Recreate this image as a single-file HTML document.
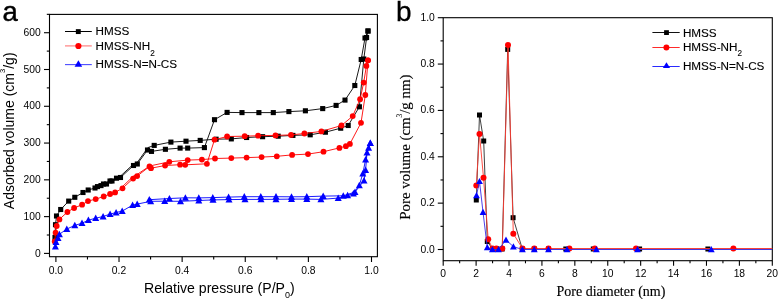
<!DOCTYPE html>
<html><head><meta charset="utf-8"><style>
html,body{margin:0;padding:0;background:#fff;width:778px;height:299px;overflow:hidden}
svg{display:block;will-change:transform}

</style></head><body>
<svg width="778" height="299" viewBox="0 0 778 299">
<text x="2.6" y="21" font-family="'Liberation Sans', sans-serif" font-size="27.5" fill="#000" stroke="#000" stroke-width="0.45">a</text>
<text x="396" y="20.7" font-family="'Liberation Sans', sans-serif" font-size="28" fill="#000" stroke="#000" stroke-width="0.3">b</text>
<rect x="49.5" y="14.4" width="327.9" height="242.3" fill="none" stroke="#000" stroke-width="1.1"/>
<line x1="44" y1="253.40" x2="49.5" y2="253.40" stroke="#000" stroke-width="1.1"/>
<text x="40.7" y="256.50" font-family="'Liberation Sans', sans-serif" font-size="10.3" text-anchor="end">0</text>
<line x1="44" y1="216.62" x2="49.5" y2="216.62" stroke="#000" stroke-width="1.1"/>
<text x="40.7" y="219.72" font-family="'Liberation Sans', sans-serif" font-size="10.3" text-anchor="end">100</text>
<line x1="44" y1="179.84" x2="49.5" y2="179.84" stroke="#000" stroke-width="1.1"/>
<text x="40.7" y="182.94" font-family="'Liberation Sans', sans-serif" font-size="10.3" text-anchor="end">200</text>
<line x1="44" y1="143.06" x2="49.5" y2="143.06" stroke="#000" stroke-width="1.1"/>
<text x="40.7" y="146.16" font-family="'Liberation Sans', sans-serif" font-size="10.3" text-anchor="end">300</text>
<line x1="44" y1="106.28" x2="49.5" y2="106.28" stroke="#000" stroke-width="1.1"/>
<text x="40.7" y="109.38" font-family="'Liberation Sans', sans-serif" font-size="10.3" text-anchor="end">400</text>
<line x1="44" y1="69.50" x2="49.5" y2="69.50" stroke="#000" stroke-width="1.1"/>
<text x="40.7" y="72.60" font-family="'Liberation Sans', sans-serif" font-size="10.3" text-anchor="end">500</text>
<line x1="44" y1="32.72" x2="49.5" y2="32.72" stroke="#000" stroke-width="1.1"/>
<text x="40.7" y="35.82" font-family="'Liberation Sans', sans-serif" font-size="10.3" text-anchor="end">600</text>
<line x1="46.8" y1="235.01" x2="49.5" y2="235.01" stroke="#000" stroke-width="1.1"/>
<line x1="46.8" y1="198.23" x2="49.5" y2="198.23" stroke="#000" stroke-width="1.1"/>
<line x1="46.8" y1="161.45" x2="49.5" y2="161.45" stroke="#000" stroke-width="1.1"/>
<line x1="46.8" y1="124.67" x2="49.5" y2="124.67" stroke="#000" stroke-width="1.1"/>
<line x1="46.8" y1="87.89" x2="49.5" y2="87.89" stroke="#000" stroke-width="1.1"/>
<line x1="46.8" y1="51.11" x2="49.5" y2="51.11" stroke="#000" stroke-width="1.1"/>
<line x1="46.8" y1="14.33" x2="49.5" y2="14.33" stroke="#000" stroke-width="1.1"/>
<line x1="55.90" y1="256.7" x2="55.90" y2="262" stroke="#000" stroke-width="1.1"/>
<text x="55.90" y="273.6" font-family="'Liberation Sans', sans-serif" font-size="10.3" text-anchor="middle">0.0</text>
<line x1="87.46" y1="256.7" x2="87.46" y2="259.5" stroke="#000" stroke-width="1.1"/>
<line x1="119.02" y1="256.7" x2="119.02" y2="262" stroke="#000" stroke-width="1.1"/>
<text x="119.02" y="273.6" font-family="'Liberation Sans', sans-serif" font-size="10.3" text-anchor="middle">0.2</text>
<line x1="150.58" y1="256.7" x2="150.58" y2="259.5" stroke="#000" stroke-width="1.1"/>
<line x1="182.14" y1="256.7" x2="182.14" y2="262" stroke="#000" stroke-width="1.1"/>
<text x="182.14" y="273.6" font-family="'Liberation Sans', sans-serif" font-size="10.3" text-anchor="middle">0.4</text>
<line x1="213.70" y1="256.7" x2="213.70" y2="259.5" stroke="#000" stroke-width="1.1"/>
<line x1="245.26" y1="256.7" x2="245.26" y2="262" stroke="#000" stroke-width="1.1"/>
<text x="245.26" y="273.6" font-family="'Liberation Sans', sans-serif" font-size="10.3" text-anchor="middle">0.6</text>
<line x1="276.82" y1="256.7" x2="276.82" y2="259.5" stroke="#000" stroke-width="1.1"/>
<line x1="308.38" y1="256.7" x2="308.38" y2="262" stroke="#000" stroke-width="1.1"/>
<text x="308.38" y="273.6" font-family="'Liberation Sans', sans-serif" font-size="10.3" text-anchor="middle">0.8</text>
<line x1="339.94" y1="256.7" x2="339.94" y2="259.5" stroke="#000" stroke-width="1.1"/>
<line x1="371.50" y1="256.7" x2="371.50" y2="262" stroke="#000" stroke-width="1.1"/>
<text x="371.50" y="273.6" font-family="'Liberation Sans', sans-serif" font-size="10.3" text-anchor="middle">1.0</text>
<text x="144" y="292.5" font-family="'Liberation Sans', sans-serif" font-size="14.1">Relative pressure (P/P<tspan font-size="9" dy="5.6">0</tspan><tspan dy="-5.6">)</tspan></text>
<text transform="translate(13.6,209.2) rotate(-90)" x="0" y="0" font-family="'Liberation Sans', sans-serif" font-size="14">Adsorbed volume (cm<tspan font-size="7.6" dy="-8.5">3</tspan><tspan dy="8.5">/g)</tspan></text>
<polyline points="55.0,237.4 55.5,224.7 56.5,216.0 60.7,209.5 68.7,201.1 74.8,197.3 83.0,192.5 88.2,190.0 95.0,188.0 101.0,185.6 106.5,184.0 112.0,181.0 120.5,177.5 133.5,165.5 137.3,164.0 147.5,150.0 151.5,151.4 165.4,149.3 180.1,148.1 187.7,148.1 204.4,147.6 214.5,119.7 227.1,112.4 242.0,112.6 258.9,112.6 273.3,112.6 288.9,111.6 305.4,110.8 322.7,108.6 336.1,105.4 345.0,100.1 354.8,85.5 361.2,59.5 365.0,38.0 368.0,31.0" fill="none" stroke="#000" stroke-width="0.9"/>
<polyline points="368.0,31.0 366.6,37.5 363.8,59.0 359.4,106.8 348.2,125.5 340.7,128.2 325.4,132.2 310.2,134.8 292.9,135.4 278.2,136.2 262.6,136.7 246.6,137.5 231.3,138.9 216.1,139.2 200.2,140.4 186.0,141.2 170.9,142.1 154.2,145.4 147.9,147.6 137.6,162.0 133.8,163.8 121.0,175.6 116.5,178.2 110.0,181.0 103.5,184.0 97.5,186.6" fill="none" stroke="#000" stroke-width="0.9"/>
<rect x="52.45" y="234.85" width="5.1" height="5.1" fill="#000"/><rect x="52.95" y="222.15" width="5.1" height="5.1" fill="#000"/><rect x="53.95" y="213.45" width="5.1" height="5.1" fill="#000"/><rect x="58.15" y="206.95" width="5.1" height="5.1" fill="#000"/><rect x="66.15" y="198.55" width="5.1" height="5.1" fill="#000"/><rect x="72.25" y="194.75" width="5.1" height="5.1" fill="#000"/><rect x="80.45" y="189.95" width="5.1" height="5.1" fill="#000"/><rect x="85.65" y="187.45" width="5.1" height="5.1" fill="#000"/><rect x="92.45" y="185.45" width="5.1" height="5.1" fill="#000"/><rect x="98.45" y="183.05" width="5.1" height="5.1" fill="#000"/><rect x="103.95" y="181.45" width="5.1" height="5.1" fill="#000"/><rect x="109.45" y="178.45" width="5.1" height="5.1" fill="#000"/><rect x="117.95" y="174.95" width="5.1" height="5.1" fill="#000"/><rect x="130.95" y="162.95" width="5.1" height="5.1" fill="#000"/><rect x="134.75" y="161.45" width="5.1" height="5.1" fill="#000"/><rect x="144.95" y="147.45" width="5.1" height="5.1" fill="#000"/><rect x="148.95" y="148.85" width="5.1" height="5.1" fill="#000"/><rect x="162.85" y="146.75" width="5.1" height="5.1" fill="#000"/><rect x="177.55" y="145.55" width="5.1" height="5.1" fill="#000"/><rect x="185.15" y="145.55" width="5.1" height="5.1" fill="#000"/><rect x="201.85" y="145.05" width="5.1" height="5.1" fill="#000"/><rect x="211.95" y="117.15" width="5.1" height="5.1" fill="#000"/><rect x="224.55" y="109.85" width="5.1" height="5.1" fill="#000"/><rect x="239.45" y="110.05" width="5.1" height="5.1" fill="#000"/><rect x="256.35" y="110.05" width="5.1" height="5.1" fill="#000"/><rect x="270.75" y="110.05" width="5.1" height="5.1" fill="#000"/><rect x="286.35" y="109.05" width="5.1" height="5.1" fill="#000"/><rect x="302.85" y="108.25" width="5.1" height="5.1" fill="#000"/><rect x="320.15" y="106.05" width="5.1" height="5.1" fill="#000"/><rect x="333.55" y="102.85" width="5.1" height="5.1" fill="#000"/><rect x="342.45" y="97.55" width="5.1" height="5.1" fill="#000"/><rect x="352.25" y="82.95" width="5.1" height="5.1" fill="#000"/><rect x="358.65" y="56.95" width="5.1" height="5.1" fill="#000"/><rect x="362.45" y="35.45" width="5.1" height="5.1" fill="#000"/><rect x="365.45" y="28.45" width="5.1" height="5.1" fill="#000"/><rect x="365.45" y="28.45" width="5.1" height="5.1" fill="#000"/><rect x="364.05" y="34.95" width="5.1" height="5.1" fill="#000"/><rect x="361.25" y="56.45" width="5.1" height="5.1" fill="#000"/><rect x="356.85" y="104.25" width="5.1" height="5.1" fill="#000"/><rect x="345.65" y="122.95" width="5.1" height="5.1" fill="#000"/><rect x="338.15" y="125.65" width="5.1" height="5.1" fill="#000"/><rect x="322.85" y="129.65" width="5.1" height="5.1" fill="#000"/><rect x="307.65" y="132.25" width="5.1" height="5.1" fill="#000"/><rect x="290.35" y="132.85" width="5.1" height="5.1" fill="#000"/><rect x="275.65" y="133.65" width="5.1" height="5.1" fill="#000"/><rect x="260.05" y="134.15" width="5.1" height="5.1" fill="#000"/><rect x="244.05" y="134.95" width="5.1" height="5.1" fill="#000"/><rect x="228.75" y="136.35" width="5.1" height="5.1" fill="#000"/><rect x="213.55" y="136.65" width="5.1" height="5.1" fill="#000"/><rect x="197.65" y="137.85" width="5.1" height="5.1" fill="#000"/><rect x="183.45" y="138.65" width="5.1" height="5.1" fill="#000"/><rect x="168.35" y="139.55" width="5.1" height="5.1" fill="#000"/><rect x="151.65" y="142.85" width="5.1" height="5.1" fill="#000"/><rect x="113.95" y="175.65" width="5.1" height="5.1" fill="#000"/><rect x="107.45" y="178.45" width="5.1" height="5.1" fill="#000"/><rect x="100.95" y="181.45" width="5.1" height="5.1" fill="#000"/><rect x="94.95" y="184.05" width="5.1" height="5.1" fill="#000"/>
<polyline points="54.7,241.4 55.6,232.7 56.7,226.0 59.4,219.4 67.4,212.0 74.1,208.0 82.1,204.7 88.0,201.1 95.7,199.1 103.7,196.5 110.1,194.0 115.1,192.4 122.5,188.3 133.1,178.6 137.1,176.1 149.5,166.5 151.0,168.2 165.1,165.5 180.1,164.7 185.2,164.8 206.9,163.8 214.5,139.7 227.1,136.5 244.7,136.2 258.1,135.7 275.5,135.4 291.0,134.9 304.4,133.5 321.4,131.4 341.5,125.5 352.7,116.1 360.1,99.2 363.7,82.6 366.4,65.9 368.0,60.3" fill="none" stroke="#ff0000" stroke-width="0.9"/>
<polyline points="368.0,60.3 365.3,95.0 361.0,122.8 349.9,143.9 345.9,146.2 339.4,147.9 323.5,151.7 308.0,154.1 292.1,154.9 276.8,156.3 261.6,157.1 246.6,157.6 231.3,158.1 215.0,158.5 201.9,159.6 187.7,160.1 169.3,161.8 149.6,166.0 137.8,174.0 133.6,176.0 122.4,186.6" fill="none" stroke="#ff0000" stroke-width="0.9"/>
<circle cx="54.70" cy="241.40" r="2.9" fill="#f00"/><circle cx="55.60" cy="232.70" r="2.9" fill="#f00"/><circle cx="56.70" cy="226.00" r="2.9" fill="#f00"/><circle cx="59.40" cy="219.40" r="2.9" fill="#f00"/><circle cx="67.40" cy="212.00" r="2.9" fill="#f00"/><circle cx="74.10" cy="208.00" r="2.9" fill="#f00"/><circle cx="82.10" cy="204.70" r="2.9" fill="#f00"/><circle cx="88.00" cy="201.10" r="2.9" fill="#f00"/><circle cx="95.70" cy="199.10" r="2.9" fill="#f00"/><circle cx="103.70" cy="196.50" r="2.9" fill="#f00"/><circle cx="110.10" cy="194.00" r="2.9" fill="#f00"/><circle cx="115.10" cy="192.40" r="2.9" fill="#f00"/><circle cx="122.50" cy="188.30" r="2.9" fill="#f00"/><circle cx="133.10" cy="178.60" r="2.9" fill="#f00"/><circle cx="137.10" cy="176.10" r="2.9" fill="#f00"/><circle cx="149.50" cy="166.50" r="2.9" fill="#f00"/><circle cx="151.00" cy="168.20" r="2.9" fill="#f00"/><circle cx="165.10" cy="165.50" r="2.9" fill="#f00"/><circle cx="180.10" cy="164.70" r="2.9" fill="#f00"/><circle cx="185.20" cy="164.80" r="2.9" fill="#f00"/><circle cx="206.90" cy="163.80" r="2.9" fill="#f00"/><circle cx="214.50" cy="139.70" r="2.9" fill="#f00"/><circle cx="227.10" cy="136.50" r="2.9" fill="#f00"/><circle cx="244.70" cy="136.20" r="2.9" fill="#f00"/><circle cx="258.10" cy="135.70" r="2.9" fill="#f00"/><circle cx="275.50" cy="135.40" r="2.9" fill="#f00"/><circle cx="291.00" cy="134.90" r="2.9" fill="#f00"/><circle cx="304.40" cy="133.50" r="2.9" fill="#f00"/><circle cx="321.40" cy="131.40" r="2.9" fill="#f00"/><circle cx="341.50" cy="125.50" r="2.9" fill="#f00"/><circle cx="352.70" cy="116.10" r="2.9" fill="#f00"/><circle cx="360.10" cy="99.20" r="2.9" fill="#f00"/><circle cx="363.70" cy="82.60" r="2.9" fill="#f00"/><circle cx="366.40" cy="65.90" r="2.9" fill="#f00"/><circle cx="368.00" cy="60.30" r="2.9" fill="#f00"/><circle cx="368.00" cy="60.30" r="2.9" fill="#f00"/><circle cx="365.30" cy="95.00" r="2.9" fill="#f00"/><circle cx="361.00" cy="122.80" r="2.9" fill="#f00"/><circle cx="349.90" cy="143.90" r="2.9" fill="#f00"/><circle cx="345.90" cy="146.20" r="2.9" fill="#f00"/><circle cx="339.40" cy="147.90" r="2.9" fill="#f00"/><circle cx="323.50" cy="151.70" r="2.9" fill="#f00"/><circle cx="308.00" cy="154.10" r="2.9" fill="#f00"/><circle cx="292.10" cy="154.90" r="2.9" fill="#f00"/><circle cx="276.80" cy="156.30" r="2.9" fill="#f00"/><circle cx="261.60" cy="157.10" r="2.9" fill="#f00"/><circle cx="246.60" cy="157.60" r="2.9" fill="#f00"/><circle cx="231.30" cy="158.10" r="2.9" fill="#f00"/><circle cx="215.00" cy="158.50" r="2.9" fill="#f00"/><circle cx="201.90" cy="159.60" r="2.9" fill="#f00"/><circle cx="187.70" cy="160.10" r="2.9" fill="#f00"/><circle cx="169.30" cy="161.80" r="2.9" fill="#f00"/>
<polyline points="55.4,246.6 56.0,242.1 58.0,238.0 59.4,234.3 66.8,229.0 74.8,225.4 82.0,223.2 88.4,220.2 95.7,218.2 103.1,216.5 110.1,214.1 116.1,212.5 122.2,211.1 132.6,205.1 137.2,204.1 150.7,201.3 164.7,201.2 180.5,201.3 198.8,200.5 213.0,199.9 229.0,199.6 245.0,199.4 261.0,199.4 276.0,199.3 291.5,199.1 306.8,199.1 320.9,199.4 338.2,198.1 347.6,195.4 353.4,193.5 359.3,185.4 362.8,173.6 365.6,159.6 368.6,147.9 370.3,143.2" fill="none" stroke="#0000ff" stroke-width="0.9"/>
<polyline points="370.3,143.2 367.0,152.6 365.6,170.1 364.0,180.7 355.0,192.0 343.3,195.8 323.2,196.1 306.8,196.7 291.5,196.8 276.0,196.7 260.8,196.7 244.3,196.7 228.6,197.1 212.8,197.6 198.8,197.9 185.4,197.8 169.4,198.5 149.3,199.7" fill="none" stroke="#0000ff" stroke-width="0.9"/>
<polygon points="55.40,243.03 58.90,249.53 51.90,249.53" fill="#00f"/><polygon points="56.00,238.53 59.50,245.03 52.50,245.03" fill="#00f"/><polygon points="58.00,234.43 61.50,240.93 54.50,240.93" fill="#00f"/><polygon points="59.40,230.73 62.90,237.23 55.90,237.23" fill="#00f"/><polygon points="66.80,225.43 70.30,231.93 63.30,231.93" fill="#00f"/><polygon points="74.80,221.83 78.30,228.33 71.30,228.33" fill="#00f"/><polygon points="82.00,219.62 85.50,226.12 78.50,226.12" fill="#00f"/><polygon points="88.40,216.62 91.90,223.12 84.90,223.12" fill="#00f"/><polygon points="95.70,214.62 99.20,221.12 92.20,221.12" fill="#00f"/><polygon points="103.10,212.93 106.60,219.43 99.60,219.43" fill="#00f"/><polygon points="110.10,210.53 113.60,217.03 106.60,217.03" fill="#00f"/><polygon points="116.10,208.93 119.60,215.43 112.60,215.43" fill="#00f"/><polygon points="122.20,207.53 125.70,214.03 118.70,214.03" fill="#00f"/><polygon points="132.60,201.53 136.10,208.03 129.10,208.03" fill="#00f"/><polygon points="137.20,200.53 140.70,207.03 133.70,207.03" fill="#00f"/><polygon points="150.70,197.73 154.20,204.23 147.20,204.23" fill="#00f"/><polygon points="164.70,197.62 168.20,204.12 161.20,204.12" fill="#00f"/><polygon points="180.50,197.73 184.00,204.23 177.00,204.23" fill="#00f"/><polygon points="198.80,196.93 202.30,203.43 195.30,203.43" fill="#00f"/><polygon points="213.00,196.33 216.50,202.83 209.50,202.83" fill="#00f"/><polygon points="229.00,196.03 232.50,202.53 225.50,202.53" fill="#00f"/><polygon points="245.00,195.83 248.50,202.33 241.50,202.33" fill="#00f"/><polygon points="261.00,195.83 264.50,202.33 257.50,202.33" fill="#00f"/><polygon points="276.00,195.73 279.50,202.23 272.50,202.23" fill="#00f"/><polygon points="291.50,195.53 295.00,202.03 288.00,202.03" fill="#00f"/><polygon points="306.80,195.53 310.30,202.03 303.30,202.03" fill="#00f"/><polygon points="320.90,195.83 324.40,202.33 317.40,202.33" fill="#00f"/><polygon points="338.20,194.53 341.70,201.03 334.70,201.03" fill="#00f"/><polygon points="347.60,191.83 351.10,198.33 344.10,198.33" fill="#00f"/><polygon points="353.40,189.93 356.90,196.43 349.90,196.43" fill="#00f"/><polygon points="359.30,181.83 362.80,188.33 355.80,188.33" fill="#00f"/><polygon points="362.80,170.03 366.30,176.53 359.30,176.53" fill="#00f"/><polygon points="365.60,156.03 369.10,162.53 362.10,162.53" fill="#00f"/><polygon points="368.60,144.33 372.10,150.83 365.10,150.83" fill="#00f"/><polygon points="370.30,139.62 373.80,146.12 366.80,146.12" fill="#00f"/><polygon points="370.30,139.62 373.80,146.12 366.80,146.12" fill="#00f"/><polygon points="367.00,149.03 370.50,155.53 363.50,155.53" fill="#00f"/><polygon points="365.60,166.53 369.10,173.03 362.10,173.03" fill="#00f"/><polygon points="364.00,177.12 367.50,183.62 360.50,183.62" fill="#00f"/><polygon points="355.00,188.43 358.50,194.93 351.50,194.93" fill="#00f"/><polygon points="343.30,192.23 346.80,198.73 339.80,198.73" fill="#00f"/><polygon points="323.20,192.53 326.70,199.03 319.70,199.03" fill="#00f"/><polygon points="306.80,193.12 310.30,199.62 303.30,199.62" fill="#00f"/><polygon points="291.50,193.23 295.00,199.73 288.00,199.73" fill="#00f"/><polygon points="276.00,193.12 279.50,199.62 272.50,199.62" fill="#00f"/><polygon points="260.80,193.12 264.30,199.62 257.30,199.62" fill="#00f"/><polygon points="244.30,193.12 247.80,199.62 240.80,199.62" fill="#00f"/><polygon points="228.60,193.53 232.10,200.03 225.10,200.03" fill="#00f"/><polygon points="212.80,194.03 216.30,200.53 209.30,200.53" fill="#00f"/><polygon points="198.80,194.33 202.30,200.83 195.30,200.83" fill="#00f"/><polygon points="185.40,194.23 188.90,200.73 181.90,200.73" fill="#00f"/><polygon points="169.40,194.93 172.90,201.43 165.90,201.43" fill="#00f"/><polygon points="149.30,196.12 152.80,202.62 145.80,202.62" fill="#00f"/>
<line x1="65" y1="31.5" x2="91.8" y2="31.5" stroke="#000" stroke-width="1"/>
<rect x="75.85" y="29.15" width="4.9" height="4.9" fill="#000"/>
<line x1="65" y1="45.9" x2="91.8" y2="45.9" stroke="#ff8080" stroke-width="1.2"/>
<circle cx="78.40" cy="46.00" r="3.1" fill="#f00"/>
<line x1="65" y1="64.6" x2="91.8" y2="64.6" stroke="#4a4aff" stroke-width="1.1"/>
<polygon points="78.40,60.27 82.20,66.87 74.60,66.87" fill="#00f"/>
<text x="95.6" y="35" font-family="'Liberation Sans', sans-serif" font-size="11.7" stroke="#000" stroke-width="0.12">HMSS</text>
<text x="95.6" y="49.8" font-family="'Liberation Sans', sans-serif" font-size="11.7" stroke="#000" stroke-width="0.12">HMSS-NH<tspan font-size="8.2" dy="5.8">2</tspan></text>
<text x="95.6" y="68.3" font-family="'Liberation Sans', sans-serif" font-size="11.7" stroke="#000" stroke-width="0.12">HMSS-N=N-CS</text>
<rect x="443.2" y="17.7" width="329.1" height="243" fill="none" stroke="#000" stroke-width="1.1"/>
<line x1="437.8" y1="249.50" x2="443.2" y2="249.50" stroke="#000" stroke-width="1.1"/>
<text x="434.8" y="252.50" font-family="'Liberation Sans', sans-serif" font-size="10.3" text-anchor="end">0.0</text>
<line x1="437.8" y1="203.14" x2="443.2" y2="203.14" stroke="#000" stroke-width="1.1"/>
<text x="434.8" y="206.14" font-family="'Liberation Sans', sans-serif" font-size="10.3" text-anchor="end">0.2</text>
<line x1="437.8" y1="156.78" x2="443.2" y2="156.78" stroke="#000" stroke-width="1.1"/>
<text x="434.8" y="159.78" font-family="'Liberation Sans', sans-serif" font-size="10.3" text-anchor="end">0.4</text>
<line x1="437.8" y1="110.42" x2="443.2" y2="110.42" stroke="#000" stroke-width="1.1"/>
<text x="434.8" y="113.42" font-family="'Liberation Sans', sans-serif" font-size="10.3" text-anchor="end">0.6</text>
<line x1="437.8" y1="64.06" x2="443.2" y2="64.06" stroke="#000" stroke-width="1.1"/>
<text x="434.8" y="67.06" font-family="'Liberation Sans', sans-serif" font-size="10.3" text-anchor="end">0.8</text>
<line x1="437.8" y1="17.70" x2="443.2" y2="17.70" stroke="#000" stroke-width="1.1"/>
<text x="434.8" y="20.70" font-family="'Liberation Sans', sans-serif" font-size="10.3" text-anchor="end">1.0</text>
<line x1="440.5" y1="226.32" x2="443.2" y2="226.32" stroke="#000" stroke-width="1.1"/>
<line x1="440.5" y1="179.96" x2="443.2" y2="179.96" stroke="#000" stroke-width="1.1"/>
<line x1="440.5" y1="133.60" x2="443.2" y2="133.60" stroke="#000" stroke-width="1.1"/>
<line x1="440.5" y1="87.24" x2="443.2" y2="87.24" stroke="#000" stroke-width="1.1"/>
<line x1="440.5" y1="40.88" x2="443.2" y2="40.88" stroke="#000" stroke-width="1.1"/>
<line x1="443.20" y1="260.7" x2="443.20" y2="265.8" stroke="#000" stroke-width="1.1"/>
<text x="443.20" y="277.3" font-family="'Liberation Sans', sans-serif" font-size="10.3" text-anchor="middle">0</text>
<line x1="459.65" y1="260.7" x2="459.65" y2="263.3" stroke="#000" stroke-width="1.1"/>
<line x1="476.11" y1="260.7" x2="476.11" y2="265.8" stroke="#000" stroke-width="1.1"/>
<text x="476.11" y="277.3" font-family="'Liberation Sans', sans-serif" font-size="10.3" text-anchor="middle">2</text>
<line x1="492.56" y1="260.7" x2="492.56" y2="263.3" stroke="#000" stroke-width="1.1"/>
<line x1="509.02" y1="260.7" x2="509.02" y2="265.8" stroke="#000" stroke-width="1.1"/>
<text x="509.02" y="277.3" font-family="'Liberation Sans', sans-serif" font-size="10.3" text-anchor="middle">4</text>
<line x1="525.48" y1="260.7" x2="525.48" y2="263.3" stroke="#000" stroke-width="1.1"/>
<line x1="541.93" y1="260.7" x2="541.93" y2="265.8" stroke="#000" stroke-width="1.1"/>
<text x="541.93" y="277.3" font-family="'Liberation Sans', sans-serif" font-size="10.3" text-anchor="middle">6</text>
<line x1="558.38" y1="260.7" x2="558.38" y2="263.3" stroke="#000" stroke-width="1.1"/>
<line x1="574.84" y1="260.7" x2="574.84" y2="265.8" stroke="#000" stroke-width="1.1"/>
<text x="574.84" y="277.3" font-family="'Liberation Sans', sans-serif" font-size="10.3" text-anchor="middle">8</text>
<line x1="591.29" y1="260.7" x2="591.29" y2="263.3" stroke="#000" stroke-width="1.1"/>
<line x1="607.75" y1="260.7" x2="607.75" y2="265.8" stroke="#000" stroke-width="1.1"/>
<text x="607.75" y="277.3" font-family="'Liberation Sans', sans-serif" font-size="10.3" text-anchor="middle">10</text>
<line x1="624.20" y1="260.7" x2="624.20" y2="263.3" stroke="#000" stroke-width="1.1"/>
<line x1="640.66" y1="260.7" x2="640.66" y2="265.8" stroke="#000" stroke-width="1.1"/>
<text x="640.66" y="277.3" font-family="'Liberation Sans', sans-serif" font-size="10.3" text-anchor="middle">12</text>
<line x1="657.12" y1="260.7" x2="657.12" y2="263.3" stroke="#000" stroke-width="1.1"/>
<line x1="673.57" y1="260.7" x2="673.57" y2="265.8" stroke="#000" stroke-width="1.1"/>
<text x="673.57" y="277.3" font-family="'Liberation Sans', sans-serif" font-size="10.3" text-anchor="middle">14</text>
<line x1="690.02" y1="260.7" x2="690.02" y2="263.3" stroke="#000" stroke-width="1.1"/>
<line x1="706.48" y1="260.7" x2="706.48" y2="265.8" stroke="#000" stroke-width="1.1"/>
<text x="706.48" y="277.3" font-family="'Liberation Sans', sans-serif" font-size="10.3" text-anchor="middle">16</text>
<line x1="722.93" y1="260.7" x2="722.93" y2="263.3" stroke="#000" stroke-width="1.1"/>
<line x1="739.39" y1="260.7" x2="739.39" y2="265.8" stroke="#000" stroke-width="1.1"/>
<text x="739.39" y="277.3" font-family="'Liberation Sans', sans-serif" font-size="10.3" text-anchor="middle">18</text>
<line x1="755.85" y1="260.7" x2="755.85" y2="263.3" stroke="#000" stroke-width="1.1"/>
<line x1="772.30" y1="260.7" x2="772.30" y2="265.8" stroke="#000" stroke-width="1.1"/>
<text x="772.30" y="277.3" font-family="'Liberation Sans', sans-serif" font-size="10.3" text-anchor="middle">20</text>
<text x="556.5" y="295.8" font-family="'Liberation Serif', serif" font-size="14" stroke="#000" stroke-width="0.15">Pore diameter (nm)</text>
<text transform="translate(409.5,219.7) rotate(-90)" x="0" y="0" font-family="'Liberation Serif', serif" font-size="14.85" stroke="#000" stroke-width="0.15">Pore volume (cm<tspan font-size="7.4" stroke-width="0.05" dy="-8">3</tspan><tspan dy="8">/g nm)</tspan></text>
<polyline points="476.3,200.0 479.5,115.0 483.7,141.0 487.3,241.5 492.6,249.0 497.0,249.0 502.2,249.0 507.7,49.4 513.1,217.7 522.3,249.0 534.3,249.0 548.5,249.0 565.8,249.0 593.3,249.0 639.6,249.0 707.9,249.0 772.3,249.0" fill="none" stroke="#000" stroke-width="0.75"/>
<rect x="473.80" y="197.50" width="5.0" height="5.0" fill="#000"/><rect x="477.00" y="112.50" width="5.0" height="5.0" fill="#000"/><rect x="481.20" y="138.50" width="5.0" height="5.0" fill="#000"/><rect x="484.80" y="239.00" width="5.0" height="5.0" fill="#000"/><rect x="490.10" y="246.50" width="5.0" height="5.0" fill="#000"/><rect x="494.50" y="246.50" width="5.0" height="5.0" fill="#000"/><rect x="499.70" y="246.50" width="5.0" height="5.0" fill="#000"/><rect x="505.20" y="46.90" width="5.0" height="5.0" fill="#000"/><rect x="510.60" y="215.20" width="5.0" height="5.0" fill="#000"/><rect x="519.80" y="246.50" width="5.0" height="5.0" fill="#000"/><rect x="531.80" y="246.50" width="5.0" height="5.0" fill="#000"/><rect x="546.00" y="246.50" width="5.0" height="5.0" fill="#000"/><rect x="563.30" y="246.50" width="5.0" height="5.0" fill="#000"/><rect x="590.80" y="246.50" width="5.0" height="5.0" fill="#000"/><rect x="637.10" y="246.50" width="5.0" height="5.0" fill="#000"/><rect x="705.40" y="246.50" width="5.0" height="5.0" fill="#000"/>
<polyline points="476.3,185.5 479.5,134.1 483.5,177.8 488.2,239.3 492.6,248.6 496.4,248.6 502.3,248.6 508.0,45.0 513.3,233.7 522.5,248.5 534.3,248.5 548.5,248.5 569.4,248.5 594.8,248.5 636.0,248.5 733.4,248.5 772.3,248.5" fill="none" stroke="#ff3a30" stroke-width="0.9"/>
<circle cx="476.30" cy="185.50" r="3.0" fill="#f00"/><circle cx="479.50" cy="134.10" r="3.0" fill="#f00"/><circle cx="483.50" cy="177.80" r="3.0" fill="#f00"/><circle cx="488.20" cy="239.30" r="3.0" fill="#f00"/><circle cx="492.60" cy="248.60" r="3.0" fill="#f00"/><circle cx="496.40" cy="248.60" r="3.0" fill="#f00"/><circle cx="502.30" cy="248.60" r="3.0" fill="#f00"/><circle cx="508.00" cy="45.00" r="3.0" fill="#f00"/><circle cx="513.30" cy="233.70" r="3.0" fill="#f00"/><circle cx="522.50" cy="248.50" r="3.0" fill="#f00"/><circle cx="534.30" cy="248.50" r="3.0" fill="#f00"/><circle cx="548.50" cy="248.50" r="3.0" fill="#f00"/><circle cx="569.40" cy="248.50" r="3.0" fill="#f00"/><circle cx="594.80" cy="248.50" r="3.0" fill="#f00"/><circle cx="636.00" cy="248.50" r="3.0" fill="#f00"/><circle cx="733.40" cy="248.50" r="3.0" fill="#f00"/>
<polyline points="476.5,195.4 479.5,181.3 483.0,212.1 487.3,247.5 492.4,249.5 498.5,249.5 506.0,240.0 513.4,246.6 522.4,249.5 534.3,249.5 548.5,249.5 567.0,249.5 596.4,249.5 637.5,249.5 711.3,249.5 772.3,249.5" fill="none" stroke="#3a2ae8" stroke-width="0.9"/>
<polygon points="476.50,191.99 479.90,198.19 473.10,198.19" fill="#00f"/><polygon points="479.50,177.89 482.90,184.09 476.10,184.09" fill="#00f"/><polygon points="483.00,208.69 486.40,214.89 479.60,214.89" fill="#00f"/><polygon points="487.30,244.09 490.70,250.29 483.90,250.29" fill="#00f"/><polygon points="492.40,246.09 495.80,252.29 489.00,252.29" fill="#00f"/><polygon points="498.50,246.09 501.90,252.29 495.10,252.29" fill="#00f"/><polygon points="506.00,236.59 509.40,242.79 502.60,242.79" fill="#00f"/><polygon points="513.40,243.19 516.80,249.39 510.00,249.39" fill="#00f"/><polygon points="522.40,246.09 525.80,252.29 519.00,252.29" fill="#00f"/><polygon points="534.30,246.09 537.70,252.29 530.90,252.29" fill="#00f"/><polygon points="548.50,246.09 551.90,252.29 545.10,252.29" fill="#00f"/><polygon points="567.00,246.09 570.40,252.29 563.60,252.29" fill="#00f"/><polygon points="596.40,246.09 599.80,252.29 593.00,252.29" fill="#00f"/><polygon points="637.50,246.09 640.90,252.29 634.10,252.29" fill="#00f"/><polygon points="711.30,246.09 714.70,252.29 707.90,252.29" fill="#00f"/>
<line x1="652.4" y1="32.5" x2="679.7" y2="32.5" stroke="#111" stroke-width="1"/>
<rect x="664.10" y="30.20" width="4.8" height="4.8" fill="#000"/>
<line x1="652.4" y1="47.5" x2="679.7" y2="47.5" stroke="#ff2a2a" stroke-width="1"/>
<circle cx="666.40" cy="47.40" r="3.0" fill="#f00"/>
<line x1="652.4" y1="66.5" x2="679.7" y2="66.5" stroke="#2a2aff" stroke-width="1"/>
<polygon points="666.5,62.2 670.1,67.9 662.9,67.9" fill="#00f"/>
<text x="682.9" y="36.6" font-family="'Liberation Sans', sans-serif" font-size="11.7" stroke="#000" stroke-width="0.12">HMSS</text>
<text x="682.9" y="50.6" font-family="'Liberation Sans', sans-serif" font-size="11.7" stroke="#000" stroke-width="0.12">HMSS-NH<tspan font-size="8.2" dy="5.8">2</tspan></text>
<text x="682.9" y="69.8" font-family="'Liberation Sans', sans-serif" font-size="11.7" stroke="#000" stroke-width="0.12">HMSS-N=N-CS</text>
</svg></body></html>
